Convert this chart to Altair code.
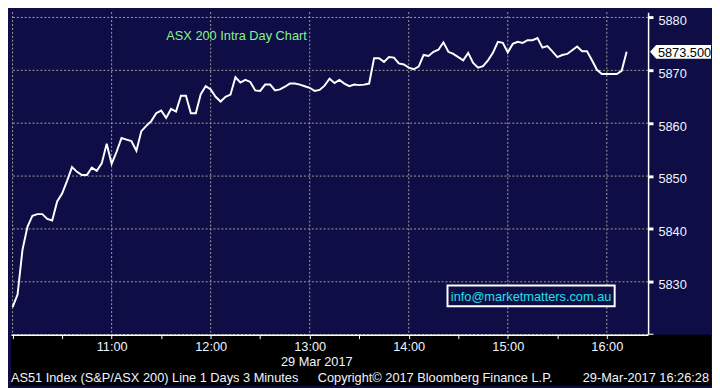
import altair as alt
import pandas as pd

# ---- data (ASX 200, 3-minute bars, 29 Mar 2017) ----
START = "2017-03-29 10:00"
STEP = "3min"
VALUES = [
    5825.2, 5827.6, 5836.1, 5840.4, 5842.5, 5842.8, 5842.8, 5841.9, 5841.6, 5845.2,
    5846.7, 5849.1, 5851.7, 5850.8, 5850.2, 5850.2, 5851.6, 5851.0, 5852.4, 5856.1,
    5852.3, 5854.6, 5857.2, 5856.9, 5856.6, 5854.8, 5858.5, 5859.5, 5860.4, 5861.9,
    5862.4, 5861.0, 5862.7, 5862.2, 5865.2, 5865.2, 5861.9, 5861.9, 5865.5, 5867.0,
    5866.4, 5865.0, 5864.1, 5865.0, 5865.4, 5868.7, 5867.7, 5868.2, 5867.8, 5866.2,
    5866.1, 5867.3, 5867.3, 5866.2, 5866.4, 5866.9, 5867.5, 5867.5, 5867.3, 5867.0,
    5866.7, 5866.1, 5866.3, 5867.1, 5868.4, 5867.6, 5868.2, 5867.5, 5867.0, 5867.3,
    5867.2, 5867.3, 5867.5, 5872.3, 5872.3, 5871.6, 5872.5, 5872.4, 5871.3, 5871.1,
    5870.5, 5870.2, 5870.7, 5872.9, 5872.7, 5873.5, 5873.9, 5875.3, 5873.5, 5873.1,
    5872.5, 5871.9, 5873.3, 5871.4, 5870.5, 5870.8, 5871.9, 5873.3, 5875.4, 5875.2,
    5873.4, 5875.0, 5875.4, 5875.2, 5875.7, 5875.7, 5876.1, 5874.3, 5874.6, 5873.6,
    5872.5, 5872.9, 5873.1, 5873.8, 5874.5, 5873.6, 5873.6, 5871.9, 5870.1, 5869.3,
    5869.3, 5869.3, 5869.3, 5869.9, 5873.5,
]
TIMES = pd.date_range(START, periods=len(VALUES), freq=STEP).strftime("%Y-%m-%dT%H:%M:%S").tolist()

X_TICKS = ["10:00", "10:30", "11:00", "11:30", "12:00", "12:30", "13:00",
           "13:30", "14:00", "14:30", "15:00", "15:30", "16:00"]
X_GRID = ["10:00", "11:00", "12:00", "13:00", "14:00", "15:00", "16:00"]
X_DOMAIN = ["09:59", "16:25"]
Y_TICKS = [5820, 5825, 5830, 5835, 5840, 5845, 5850, 5855, 5860, 5865, 5870, 5875, 5880]
Y_GRID = [5820, 5830, 5840, 5850, 5860, 5870, 5880]
Y_DOMAIN = [5820, 5881]

TITLE = "ASX 200 Intra Day Chart"
DATE_LABEL = "29 Mar 2017"
INFO = "info@marketmatters.com.au"
FOOT_LEFT = "AS51 Index (S&P/ASX 200) Line 1 Days 3 Minutes"
FOOT_MID = "Copyright\u00a9 2017 Bloomberg Finance L.P."
FOOT_RIGHT = "29-Mar-2017 16:26:28"
LAST_LABEL = f"{VALUES[-1]:.3f}"

# ---- styling ----
NAVY = "#0f0d46"
GRID = "#a6a391"
TXT = "#f0f4ff"
FONT = "Liberation Sans"
FS = 13
W, H = 648, 328


def dt(hhmm):
    h, m = hhmm.split(":")
    return alt.DateTime(year=2017, month=3, date=29, hours=int(h), minutes=int(m))


def iso(hhmm):
    return f"2017-03-29T{hhmm}:00"


df = pd.DataFrame({"time": TIMES, "value": VALUES})

x_scale = alt.Scale(domain=[dt(X_DOMAIN[0]), dt(X_DOMAIN[1])], nice=False)
y_scale = alt.Scale(domain=Y_DOMAIN, zero=False, nice=False)

x_axis = alt.Axis(
    values=[dt(t) for t in X_TICKS],
    labelExpr="minutes(datum.value) == 0 && hours(datum.value) >= 11 ? timeFormat(datum.value, '%H:%M') : ''",
    grid=False,
    tickColor="white", tickSize=4, tickWidth=1,
    domainColor="white", domainWidth=1.5,
    labelColor=TXT, labelFont=FONT, labelFontSize=FS,
    labelBaseline="alphabetic", labelPadding=12, labelFlush=False,
    title=DATE_LABEL, titleX=347, titleY=31, titleAlign="right",
    titleBaseline="alphabetic", titleFont=FONT, titleFontSize=FS,
    titleFontWeight="normal", titleColor=TXT, titleAngle=0,
    zindex=1,
)

y_axis = alt.Axis(
    orient="right", values=Y_TICKS, format="d",
    labelExpr="datum.value % 10 == 0 && datum.value > 5820 ? datum.label : ''",
    grid=False,
    tickColor="white", tickSize=5,
    tickWidth={"condition": {"test": "datum.value % 10 == 0", "value": 3}, "value": 1},
    domainColor="white", domainWidth=1.5,
    labelColor=TXT, labelFont=FONT, labelFontSize=FS,
    labelPadding=5, labelBaseline="alphabetic", labelOffset=7, labelAlign="left",
    title=None,
)

band = alt.Chart(pd.DataFrame({"k": [0]})).mark_rect(color="black").encode(
    x=alt.value(0), x2=alt.value(712), y=alt.value(H), y2=alt.value(380)
)

vgrid = alt.Chart(pd.DataFrame({"time": [iso(t) for t in X_GRID]})).mark_rule(
    color=GRID, strokeDash=[2, 2], strokeWidth=1
).encode(x=alt.X("time:T", scale=x_scale))

hgrid = alt.Chart(pd.DataFrame({"value": Y_GRID})).mark_rule(
    color=GRID, strokeDash=[2, 2], strokeWidth=1
).encode(y=alt.Y("value:Q", scale=y_scale))

line = alt.Chart(df).mark_line(color="white", strokeWidth=2).encode(
    x=alt.X("time:T", scale=x_scale, axis=x_axis),
    y=alt.Y("value:Q", scale=y_scale, axis=y_axis),
)

last_df = pd.DataFrame({"value": [VALUES[-1]], "label": [LAST_LABEL]})
tag_shape = "M-1,0L-0.8,-0.226L1,-0.226L1,0.226L-0.8,0.226Z"
last_box = alt.Chart(last_df).mark_point(
    shape=tag_shape, size=3844, filled=True, color="white", opacity=1
).encode(x=alt.value(681), y=alt.Y("value:Q"))
last_text = alt.Chart(last_df).mark_text(
    align="left", baseline="middle", font=FONT, fontSize=FS, color="black", dy=1
).encode(x=alt.value(658), y=alt.Y("value:Q"), text="label:N")


def note(txt, x, y, color=TXT, align="left"):
    return alt.Chart(pd.DataFrame({"t": [txt]})).mark_text(
        align=align, baseline="alphabetic", font=FONT, fontSize=FS, color=color
    ).encode(x=alt.value(x), y=alt.value(y), text="t:N")


title = note(TITLE, 158, 28, color="#86f486")
info_box = alt.Chart(pd.DataFrame({"k": [0]})).mark_rect(
    fill=NAVY, stroke="white", strokeWidth=2
).encode(x=alt.value(444), x2=alt.value(614), y=alt.value(278), y2=alt.value(299))
info_text = note(INFO, 529, 294, color="#1fe0e8", align="center")
foot1 = note(FOOT_LEFT, 0, 376)
foot2 = note(FOOT_MID, 312, 376)
foot3 = note(FOOT_RIGHT, 710, 376, align="right")

chart = alt.layer(
    band, vgrid, hgrid, line, last_box, last_text, title, info_box, info_text,
    foot1, foot2, foot3
).properties(
    width=W, height=H, background=NAVY, padding=0
).configure_view(stroke=None)

chart.save("out.html", embed_options={"renderer": "svg", "actions": False})
